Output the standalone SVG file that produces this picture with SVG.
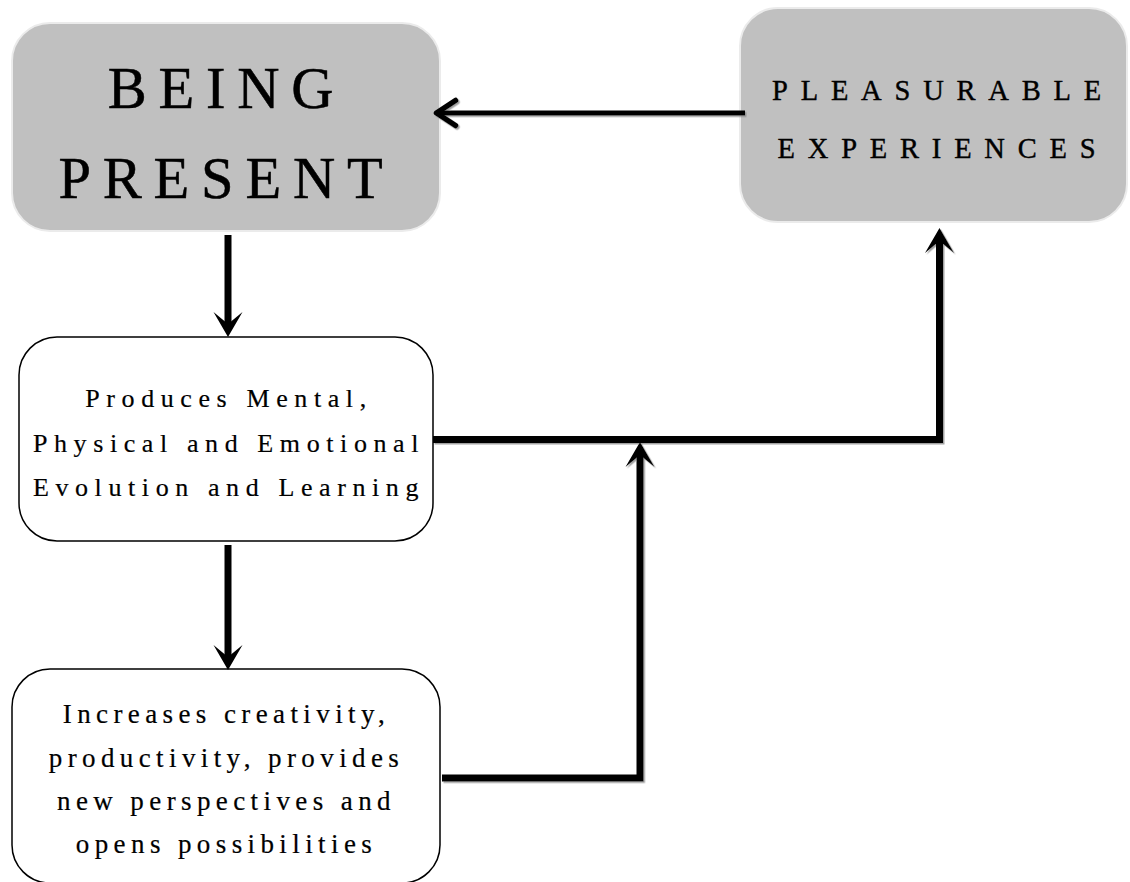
<svg xmlns="http://www.w3.org/2000/svg" width="1130" height="882" viewBox="0 0 1130 882">
  <style>
    .gray { fill: #c0c0c0; stroke: #ebebeb; stroke-width: 2; }
    .white { fill: #ffffff; stroke: #000000; stroke-width: 1.5; }
    text { font-family: "Liberation Serif", "Times New Roman", serif; fill: #000; stroke: #000; text-anchor: middle; }
    .big { font-size: 58.5px; letter-spacing: 11.8px; stroke-width: 0.5; }
    .mid { font-size: 28.5px; letter-spacing: 12.8px; stroke-width: 0.4; }
    .small { font-size: 26px; letter-spacing: 6.6px; stroke-width: 0.2; }
    .small2 { font-size: 27px; letter-spacing: 5.4px; stroke-width: 0.2; }
    .conn { fill: none; stroke: #000; stroke-width: 7; stroke-linejoin: miter; }
    .thin { fill: none; stroke: #000; stroke-width: 5; }
  </style>
  <defs>
    <marker id="stealth" markerUnits="userSpaceOnUse" markerWidth="40" markerHeight="40" refX="0" refY="0" orient="auto" overflow="visible">
      <path d="M12,0 L-13,-14.5 L-1,0 L-13,14.5 z" fill="#000"/>
    </marker>
    <marker id="chevron" markerUnits="userSpaceOnUse" markerWidth="40" markerHeight="40" refX="0" refY="0" orient="auto" overflow="visible">
      <path d="M-19,-12.5 L0,0 L-19,12.5" fill="none" stroke="#000" stroke-width="5.5" stroke-linejoin="round" stroke-linecap="round"/>
    </marker>
    <filter id="shadow" x="-5%" y="-5%" width="110%" height="120%">
      <feDropShadow dx="1.5" dy="1.5" stdDeviation="0.6" flood-color="#8a8a8a" flood-opacity="0.8"/>
    </filter>
  </defs>

  <g id="being-present">
    <rect class="gray" x="12" y="23" width="428" height="208" rx="38" ry="38"/>
    <text class="big" x="226.5" y="108">BEING</text>
    <text class="big" x="226.5" y="198">PRESENT</text>
  </g>

  <g id="pleasurable-experiences">
    <rect class="gray" x="740" y="8" width="387" height="214" rx="38" ry="38"/>
    <text class="mid" x="943" y="100">PLEASURABLE</text>
    <text class="mid" x="943" y="158">EXPERIENCES</text>
  </g>

  <g id="produces">
    <rect class="white" x="19" y="337" width="414" height="204" rx="38" ry="38"/>
    <text class="small" x="229" y="407">Produces Mental,</text>
    <text class="small" x="229" y="452">Physical and Emotional</text>
    <text class="small" x="229" y="496">Evolution and Learning</text>
  </g>

  <g id="increases">
    <rect class="white" x="12" y="669" width="428" height="214" rx="38" ry="38"/>
    <text class="small2" x="226.5" y="723">Increases creativity,</text>
    <text class="small2" x="226.5" y="767">productivity, provides</text>
    <text class="small2" x="226.5" y="810">new perspectives and</text>
    <text class="small2" x="226.5" y="853">opens possibilities</text>
  </g>

  <g id="connectors">
    <g filter="url(#shadow)">
      <path class="thin" d="M745,113 L436.5,113" marker-end="url(#chevron)"/>
      <path class="conn" d="M433,439.5 L939.5,439.5 L939.5,240" marker-end="url(#stealth)"/>
      <path class="conn" d="M442,778 L640,778 L640,454" marker-end="url(#stealth)"/>
    </g>
    <path class="conn" d="M228,235 L228,325" marker-end="url(#stealth)"/>
    <path class="conn" d="M228,545 L228,658" marker-end="url(#stealth)"/>
  </g>
</svg>
